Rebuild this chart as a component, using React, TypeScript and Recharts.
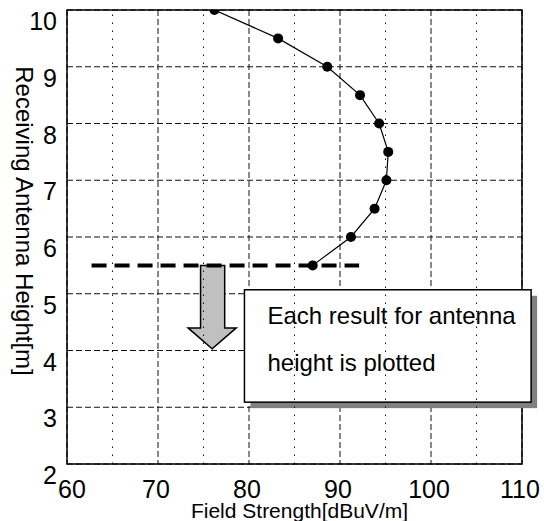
import {
  ComposedChart,
  Line,
  XAxis,
  YAxis,
  CartesianGrid,
  ReferenceLine,
  ReferenceArea,
  Label,
} from 'recharts';

// measured field strength per receiving antenna height
const heights = [10, 9.5, 9, 8.5, 8, 7.5, 7, 6.5, 6, 5.5];
const fieldStrength = [76.2, 83.2, 88.6, 92.2, 94.3, 95.3, 95.1, 93.8, 91.2, 87.0];

const xTicks = [60, 70, 80, 90, 100, 110];
const xMinorTicks = [65, 75, 85, 95, 105];
const yTicks = [2, 3, 4, 5, 6, 7, 8, 9, 10];

const noteLines = ['Each result for antenna', 'height is plotted'];

// annotation extents in data units
const cutHeight = 5.5;
const cutFrom = 62.7;
const cutTo = 92.1;
const arrowX = [73.3, 78.6];
const arrowY = [4.03, 5.5];
const noteX = [79.5, 111.0];
const noteY = [3.09, 5.07];

const data = heights.map((h, i) => ({ x: fieldStrength[i], y: h }));

const FONT = '"Liberation Sans", Arial, sans-serif';

function YTick(props: any) {
  const { x, y, payload } = props;
  return (
    <text x={x} y={y + 20} textAnchor="end" fontSize={25} fontFamily={FONT} fill="#000">
      {payload.value}
    </text>
  );
}

function XTick(props: any) {
  const { x, y, payload, index } = props;
  // first label sits a little right of its gridline in the original
  const dx = index === 0 ? 5 : -2;
  return (
    <text x={x + dx} y={y + 32} textAnchor="middle" fontSize={25} fontFamily={FONT} fill="#000">
      {payload.value}
    </text>
  );
}

function ArrowShape(props: any) {
  const { x, y, width, height } = props;
  const l = x + width * 0.26;
  const r = x + width * 0.76;
  const hy = y + height * 0.75;
  const pts = [
    [l, y],
    [r, y],
    [r, hy],
    [x + width, hy],
    [x + width * 0.5, y + height],
    [x, hy],
    [l, hy],
  ]
    .map((p) => p.join(','))
    .join(' ');
  return <polygon points={pts} fill="#c0c0c0" stroke="#000" strokeWidth={1.5} />;
}

function NoteShape(props: any) {
  const { x, y, width, height } = props;
  return (
    <g>
      <rect x={x + 6} y={y + 6} width={width} height={height} fill="#808080" />
      <rect x={x} y={y} width={width} height={height} fill="#fff" stroke="#000" strokeWidth={1.5} />
      {noteLines.map((t, i) => (
        <text key={t} x={x + 23} y={y + 34 + i * 47} fontSize={24} fontFamily={FONT} fill="#000">
          {t}
        </text>
      ))}
    </g>
  );
}

export default function App() {
  return (
    <div style={{ position: 'absolute', left: 0, top: 0, background: '#fff' }}>
      <ComposedChart
        width={544}
        height={521}
        data={data}
        margin={{ top: 10, right: 22, left: 0, bottom: 0 }}
      >
        <CartesianGrid stroke="#111" strokeDasharray="6 3" />
        {xMinorTicks.map((v) => (
          <ReferenceLine key={v} x={v} stroke="#111" strokeDasharray="1.5 6.5" />
        ))}
        <XAxis
          type="number"
          dataKey="x"
          domain={[60, 110]}
          ticks={xTicks}
          axisLine={false}
          tickLine={false}
          tickSize={0}
          height={57}
          tick={<XTick />}
          allowDataOverflow
        >
          <Label
            content={(p: any) => (
              <text
                x={p.viewBox.x + p.viewBox.width / 2 + 5}
                y={518}
                textAnchor="middle"
                fontSize={21}
                fontFamily={FONT}
                fill="#000"
              >
                Field Strength[dBuV/m]
              </text>
            )}
          />
        </XAxis>
        <YAxis
          type="number"
          dataKey="y"
          domain={[2, 10]}
          ticks={yTicks}
          axisLine={false}
          tickLine={false}
          tickSize={0}
          tickMargin={10}
          width={67}
          tick={<YTick />}
          allowDataOverflow
        >
          <Label
            content={() => {
              const cx = 22;
              const cy = 221;
              return (
                <text
                  x={cx}
                  y={cy}
                  transform={`rotate(90, ${cx}, ${cy})`}
                  textAnchor="middle"
                  dominantBaseline="middle"
                  fontSize={24}
                  fontFamily={FONT}
                  fill="#000"
                >
                  Receiving Antenna Height[m]
                </text>
              );
            }}
          />
        </YAxis>
        <ReferenceArea x1={60} x2={110} y1={2} y2={10} fill="none" fillOpacity={0} stroke="#000" strokeWidth={1.5} />
        <ReferenceLine
          segment={[
            { x: cutFrom, y: cutHeight },
            { x: cutTo, y: cutHeight },
          ]}
          stroke="#000"
          strokeWidth={4}
          strokeDasharray="15 8"
        />
        <Line
          dataKey="y"
          stroke="#000"
          strokeWidth={1.2}
          dot={{ r: 5, fill: '#000', stroke: '#000', strokeWidth: 0 }}
          isAnimationActive={false}
        />
        <ReferenceArea
          x1={arrowX[0]}
          x2={arrowX[1]}
          y1={arrowY[0]}
          y2={arrowY[1]}
          ifOverflow="visible"
          shape={<ArrowShape />}
        />
        <ReferenceArea
          x1={noteX[0]}
          x2={noteX[1]}
          y1={noteY[0]}
          y2={noteY[1]}
          ifOverflow="visible"
          shape={<NoteShape />}
        />
      </ComposedChart>
    </div>
  );
}
